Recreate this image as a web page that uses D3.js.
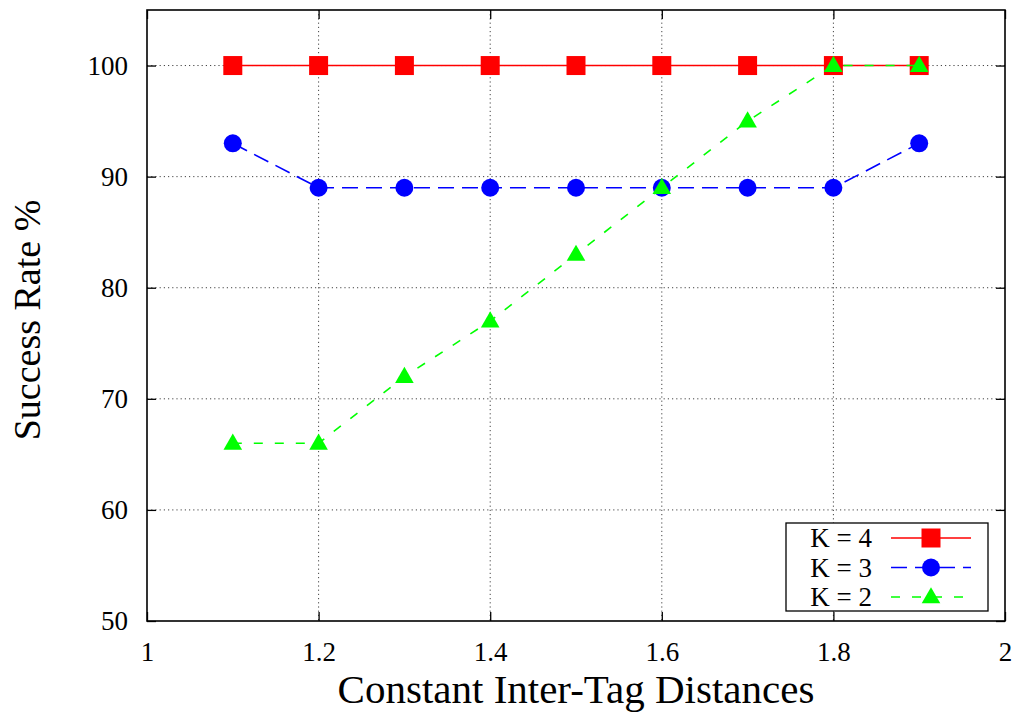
<!DOCTYPE html>
<html><head><meta charset="utf-8">
<script src="https://cdn.jsdelivr.net/npm/d3@7"></script>
<style>body{margin:0;background:#fff}svg{display:block}</style>
</head><body><svg id="c" width="1019" height="716"></svg>
<script>
const xValues = [1.1, 1.2, 1.3, 1.4, 1.5, 1.6, 1.7, 1.8, 1.9];
const k4 = [100, 100, 100, 100, 100, 100, 100, 100, 100];
const k3 = [93, 89, 89, 89, 89, 89, 89, 89, 93];
const k2 = [66, 66, 72, 77, 83, 89, 95, 100, 100];
const xTicks = [1, 1.2, 1.4, 1.6, 1.8, 2];
const yTicks = [50, 60, 70, 80, 90, 100];
const seriesNames = ["K = 4", "K = 3", "K = 2"];

const FONT = "'Liberation Serif', 'Times New Roman', Times, Tinos, 'Nimbus Roman', 'Nimbus Roman No9 L', FreeSerif, 'Noto Serif', 'DejaVu Serif', 'Noto Serif CJK SC', serif";
const svg = d3.select("#c");
const L = 147, R = 1005, T = 10, B = 621;
const x = d3.scaleLinear().domain([1, 2]).range([L, R]);
const y = d3.scaleLinear().domain([50, 105]).range([B, T]);

// grid
const g = svg.append("g");
g.selectAll(".gx").data(xTicks.slice(1, -1)).enter().append("line")
  .attr("x1", d => x(d)).attr("x2", d => x(d)).attr("y1", T).attr("y2", B)
  .attr("stroke", "#444").attr("stroke-width", 1).attr("stroke-dasharray", "1.2,3");
g.selectAll(".gy").data(yTicks.slice(1)).enter().append("line")
  .attr("x1", L).attr("x2", R).attr("y1", d => y(d)).attr("y2", d => y(d))
  .attr("stroke", "#444").attr("stroke-width", 1).attr("stroke-dasharray", "1.2,3");

// axes
const tl = 9;
const fmt = d => String(d);
const styleText = a => a.selectAll("text").style("font-family", FONT).style("font-size", "27px").attr("fill", "#000");
svg.append("g").attr("transform", `translate(0,${B})`)
  .call(d3.axisBottom(x).tickValues(xTicks).tickFormat(fmt).tickSizeInner(-tl).tickSizeOuter(0).tickPadding(21))
  .call(a => { a.attr("font-family", null); a.select(".domain").remove(); styleText(a); });
svg.append("g").attr("transform", `translate(0,${T})`)
  .call(d3.axisTop(x).tickValues(xTicks).tickFormat("").tickSizeInner(-tl).tickSizeOuter(0))
  .call(a => a.select(".domain").remove());
svg.append("g").attr("transform", `translate(${L},0)`)
  .call(d3.axisLeft(y).tickValues(yTicks).tickFormat(fmt).tickSizeInner(-tl).tickSizeOuter(0).tickPadding(19))
  .call(a => { a.attr("font-family", null); a.select(".domain").remove(); styleText(a); });
svg.append("g").attr("transform", `translate(${R},0)`)
  .call(d3.axisRight(y).tickValues(yTicks).tickFormat("").tickSizeInner(-tl).tickSizeOuter(0))
  .call(a => a.select(".domain").remove());
svg.selectAll(".tick line").attr("stroke", "#000").attr("stroke-width", 1.3);

svg.append("rect").attr("x", L).attr("y", T).attr("width", R - L).attr("height", B - T)
  .attr("fill", "none").attr("stroke", "#000").attr("stroke-width", 1.6);

// series
const series = [
  {name: seriesNames[0], vals: k4, color: "#ff0000", dash: null, shape: d3.symbolSquare, size: 361, w: 1.6},
  {name: seriesNames[1], vals: k3, color: "#0000ff", dash: "16,8", shape: d3.symbolCircle, size: 254, w: 1.6},
  {name: seriesNames[2], vals: k2, color: "#00ff00", dash: "9,12", shape: d3.symbolTriangle, size: 150, w: 1.6}
];
const line = d3.line().x(d => x(d[0])).y(d => y(d[1]));
series.forEach(s => {
  const pts = xValues.map((v, i) => [v, s.vals[i]]);
  svg.append("path").attr("d", line(pts)).attr("fill", "none").attr("stroke", s.color)
    .attr("stroke-width", s.w).attr("stroke-dasharray", s.dash);
  svg.selectAll(null).data(pts).enter().append("path")
    .attr("transform", d => `translate(${x(d[0])},${y(d[1]) + (s.shape === d3.symbolTriangle ? 1 : 0)})`)
    .attr("d", d3.symbol().type(s.shape).size(s.size)).attr("fill", s.color);
});

// legend
const lg = svg.append("g");
lg.append("rect").attr("x", 786).attr("y", 523).attr("width", 202).attr("height", 88)
  .attr("fill", "#fff").attr("stroke", "#000").attr("stroke-width", 1.3);
series.forEach((s, i) => {
  const cy = 538 + i * 29.5;
  lg.append("text").attr("x", 872).attr("y", cy + 9).attr("text-anchor", "end")
    .style("font-family", FONT).style("font-size", "27px").text(s.name);
  lg.append("line").attr("x1", 891).attr("x2", 971).attr("y1", cy).attr("y2", cy)
    .attr("stroke", s.color).attr("stroke-width", s.w).attr("stroke-dasharray", s.dash);
  lg.append("path").attr("transform", `translate(931,${cy + (s.shape === d3.symbolTriangle ? 1 : 0)})`)
    .attr("d", d3.symbol().type(s.shape).size(s.size)).attr("fill", s.color);
});

// titles
svg.append("text").attr("x", 576).attr("y", 703).attr("text-anchor", "middle")
  .style("font-family", FONT).style("font-size", "41px").text("Constant Inter-Tag Distances");
svg.append("text").attr("transform", "translate(40,320) rotate(-90)").attr("text-anchor", "middle")
  .style("font-family", FONT).style("font-size", "38px").text("Success Rate %");
</script></body></html>
